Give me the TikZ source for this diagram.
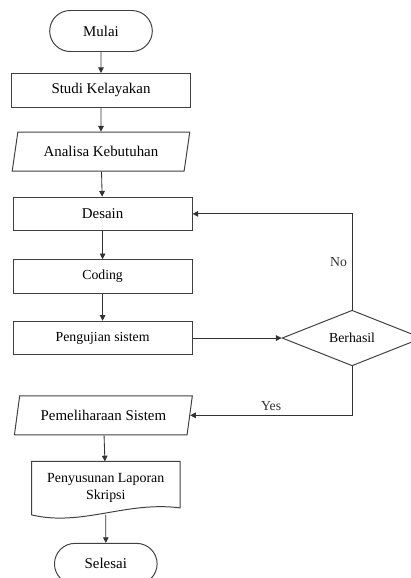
\documentclass[tikz,border=0pt]{standalone}
\usepackage{fontspec}
\setmainfont{Liberation Serif}
\usetikzlibrary{arrows.meta,positioning,shapes.geometric,shapes.misc,calc}
\tikzset{
  terminal/.style={
    rounded rectangle,
    draw=black!75,
    line width=0.7pt,
    minimum width=2.8cm,
    minimum height=1.025cm,
    font=\fontsize{10.6}{12}\selectfont
  },
  procbox/.style={
    rectangle,
    draw=black!75,
    line width=0.7pt,
    minimum width=4.475cm,
    minimum height=0.84cm,
    font=\fontsize{10.6}{12}\selectfont
  },
  iobox/.style={
    trapezium,
    trapezium left angle=78,
    trapezium right angle=102,
    trapezium stretches=true,
    draw=black!75,
    line width=0.7pt,
    minimum width=4.45cm,
    minimum height=0.975cm,
    font=\fontsize{10.6}{12}\selectfont
  },
  docbox/.style={
    rectangle,
    minimum width=3.7cm,
    minimum height=1.325cm,
    align=center,
    font=\fontsize{9.9}{12}\selectfont
  },
  decision/.style={
    diamond,
    draw=black!75,
    line width=0.7pt,
    inner sep=0pt,
    minimum width=3.5cm,
    minimum height=1.2cm,
    font=\fontsize{9.8}{12}\selectfont
  },
  smalltext/.style={font=\fontsize{9.8}{12}\selectfont},
  flow/.style={-{Triangle[length=4pt,width=4pt]}, line width=0.6pt, black!80}
}

\begin{document}
\begin{tikzpicture}
\useasboundingbox (0,0) rectangle (10.275,-14.45);
\node[terminal] (mulai) at (2.525,-0.775) {Mulai};
\node[procbox, below=0.525cm of mulai] (studi) {Studi Kelayakan};
\node[iobox, below=0.6cm of studi] (analisa) {Analisa Kebutuhan};
\node[procbox, below=0.625cm of analisa, xshift=0.04cm] (desain) {Desain};
\node[procbox, below=0.7cm of desain, smalltext] (coding) {Coding};
\node[procbox, below=0.675cm of coding, smalltext] (uji) {Pengujian sistem};
\node[decision, right=2.225cm of uji] (cek) {Berhasil};
\node[iobox, below=1.0cm of uji, xshift=0.02cm] (pelihara) {Pemeliharaan Sistem};
\node[docbox, below=0.65cm of pelihara, xshift=0.06cm] (laporan) {Penyusunan Laporan\\Skripsi};
\node[terminal, below=0.7cm of laporan] (selesai) {Selesai};
% document outline with wavy bottom
\draw[draw=black!75, line width=0.7pt] (laporan.north west) -- (laporan.north east)
  -- ($(laporan.south east)+(0,0.175)$)
  .. controls ($(laporan.south)+(0.5,0.35)$) and ($(laporan.south)+(-0.6,-0.3)$) .. (laporan.south west)
  -- cycle;
\draw[flow] (mulai) -- (studi);
\draw[flow] (studi) -- (analisa);
\draw[flow] (analisa) -- (desain);
\draw[flow] (desain) -- (coding);
\draw[flow] (coding) -- (uji);
\draw[flow] (uji) -- (cek);
\draw[flow] (cek.north) |- node[pos=0.25, left, smalltext]{No} (desain.east);
\draw[flow] (cek.south) |- node[pos=0.75, above, smalltext]{Yes} (pelihara.east);
\draw[flow] (pelihara) -- (laporan);
\draw[flow] (laporan) -- (selesai);
\end{tikzpicture}
\end{document}
